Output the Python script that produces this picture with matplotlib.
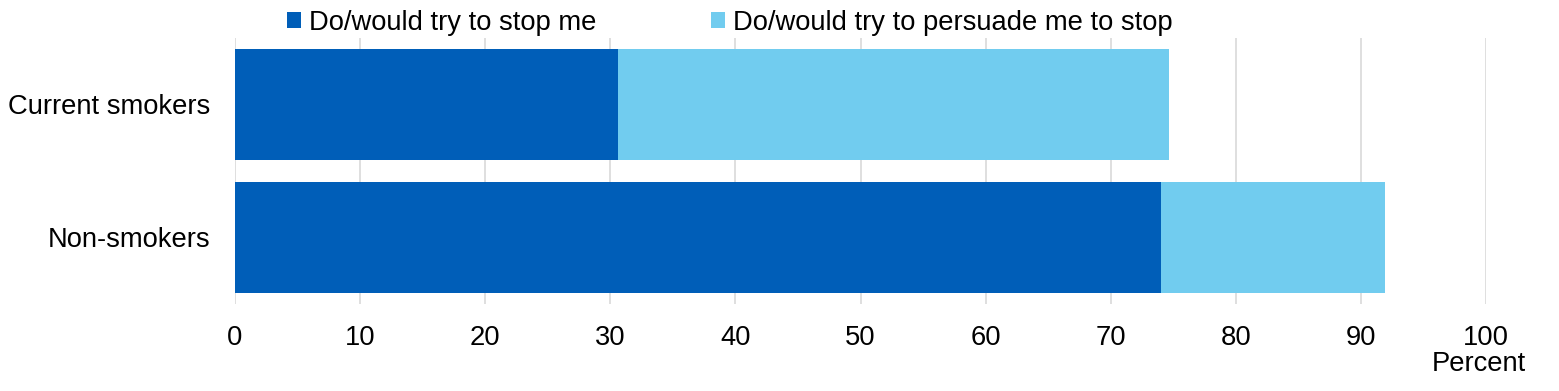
import matplotlib
matplotlib.use("Agg")
import matplotlib.pyplot as plt
from matplotlib.patches import Patch

plt.rcParams['font.family'] = ['Liberation Sans', 'DejaVu Sans']

categories = ["Current smokers", "Non-smokers"]
stop_me = [30.6, 74.0]
persuade = [44.1, 17.9]
series_names = ["Do/would try to stop me", "Do/would try to persuade me to stop"]
colors = ["#005EB8", "#71CCEF"]
xticks = [0, 10, 20, 30, 40, 50, 60, 70, 80, 90, 100]

fs = 19.7
fig = plt.figure(figsize=(15.59, 3.91), dpi=100)
ax = fig.add_axes([235/1559, 1-304/391, (1486-235)/1559, (304-38)/391])

y = list(range(len(categories)))
ax.barh(y, stop_me, height=0.83, color=colors[0], zorder=2)
ax.barh(y, persuade, left=stop_me, height=0.83, color=colors[1], zorder=2)

ax.set_xlim(0, 100)
ax.set_ylim(len(categories) - 0.5, -0.5)
ax.set_yticks(y)
ax.set_yticklabels(categories, fontsize=fs)
ax.set_xticks(xticks)
ax.set_xticklabels([str(t) for t in xticks], fontsize=fs)
ax.tick_params(axis='x', length=0, pad=15)
ax.tick_params(axis='y', length=0, pad=18)
ax.grid(axis='x', color='#D9D9D9', linewidth=1.2, zorder=0)
for s in ax.spines.values():
    s.set_visible(False)

fig.text(1479/1559, 1-364/391, "Percent", fontsize=fs, ha='center', va='center')

handles = [Patch(facecolor=c, edgecolor='none') for c in colors]
fig.legend(handles, series_names, loc='center', bbox_to_anchor=(730/1559, 1-23/391),
           ncol=2, frameon=False, fontsize=fs, handlelength=0.5, handleheight=0.5,
           handletextpad=0.3, columnspacing=4.2, borderpad=0)

fig.savefig("out.png", dpi=100)
